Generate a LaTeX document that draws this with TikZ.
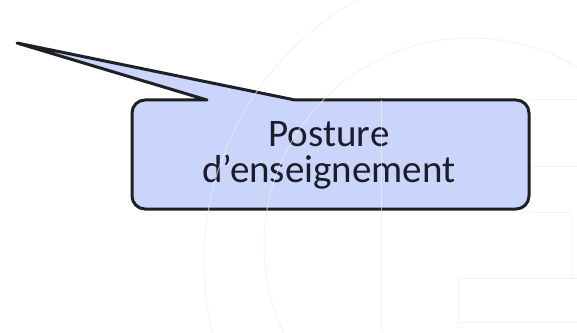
\documentclass[tikz,border=0pt]{standalone}
\usepackage{fontspec}
\setmainfont{Carlito}
\definecolor{boxfill}{HTML}{C9D5FB}
\definecolor{boxline}{HTML}{1F1F26}
\definecolor{txt}{HTML}{1C1C2A}
\definecolor{wm}{HTML}{ECEEF4}
\tikzset{
  calloutshape/.style={fill=boxfill, draw=boxline, line width=3pt, line join=round},
  watermark/.style={draw=wm, line width=1pt, opacity=0.65},
  labeltext/.style={text=txt, font=\fontsize{39}{35}\selectfont, inner sep=0pt, anchor=base}
}
\begin{document}
\begin{tikzpicture}[x=1pt,y=1pt]
\useasboundingbox[fill=white] (0,0) rectangle (577,332);
% callout
\coordinate (tip) at (17,289);
\coordinate (baseL) at (207,232);
\coordinate (baseR) at (295,232);
\path[calloutshape] (baseL) -- (tip) -- (baseR) -- (516,232)
  arc[start angle=90,end angle=0,radius=13] -- (529,136)
  arc[start angle=0,end angle=-90,radius=13] -- (145,123)
  arc[start angle=270,end angle=180,radius=13] -- (132,219)
  arc[start angle=180,end angle=90,radius=13] -- cycle;
\node[labeltext, text depth=0pt] (t1) at (329,185.5) {Posture};
\node[labeltext, text height=27pt] (t2) at (329,149.5) {d’enseignement};
% faint watermark
\begin{scope}
\clip (0,0) rectangle (577,332);
\draw[watermark] (505,70) circle[radius=301];
\draw[watermark] (471,87) circle[radius=207];
\draw[watermark] (381,232) -- (381,0);
\draw[watermark] (531,232) -- (577,232);
\draw[watermark] (531,165) -- (577,165);
\draw[watermark] (531,120) -- (571,120) -- (571,54) -- (577,54);
\draw[watermark] (577,54) -- (458,54) -- (458,10) -- (577,10);
\end{scope}
\end{tikzpicture}
\end{document}
